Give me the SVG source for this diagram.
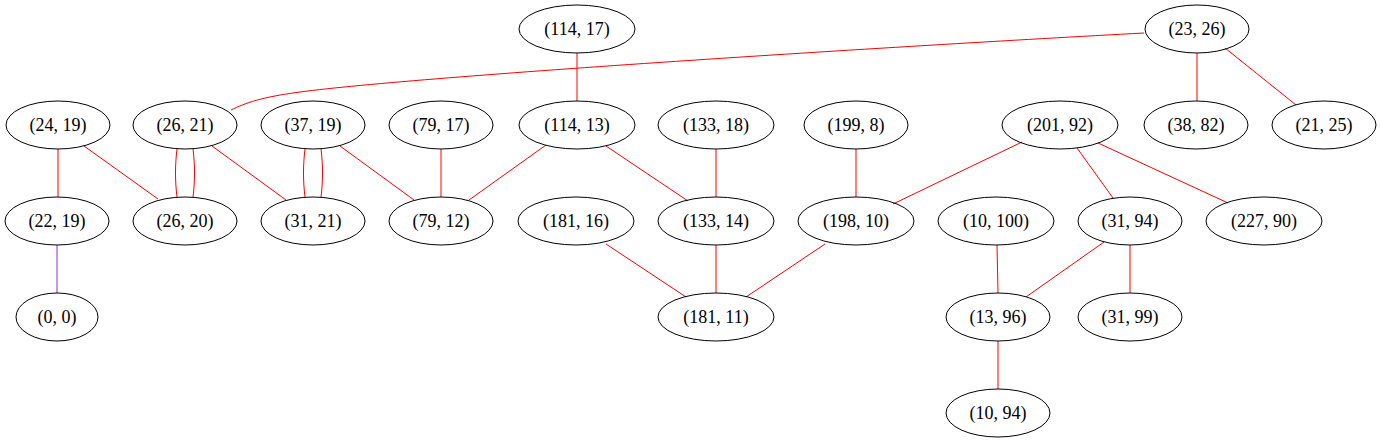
<svg xmlns="http://www.w3.org/2000/svg" width="1380" height="443" viewBox="0 0 1380 443">
<style>
.n ellipse{fill:none;stroke:#000;stroke-width:1}
.n text{font-family:"Liberation Serif","Times New Roman",serif;font-size:18px;text-anchor:middle;fill:#000}
#edges path,#edges line{fill:none;stroke:#ff0000;stroke-width:1}
#edges .p{stroke:#8a2be2}
</style>
<rect width="1380" height="443" fill="#fff"/>
<g id="edges">
<path d="M1144,33 C900,46 420,76 300,92 C262,97 245,103 231,110"/>
<line x1="577" y1="53" x2="577" y2="101"/>
<line x1="1197" y1="53" x2="1197" y2="101"/>
<line x1="1225" y1="48" x2="1296" y2="105"/>
<line x1="58" y1="149" x2="58" y2="197"/>
<line x1="84" y1="146" x2="158" y2="199"/>
<path d="M177,149 C175,165 175,181 177,197"/>
<path d="M193,149 C195,165 195,181 193,197"/>
<line x1="212" y1="146" x2="286" y2="200"/>
<path d="M305,149 C303,165 303,181 305,197"/>
<path d="M321,149 C323,165 323,181 321,197"/>
<line x1="340" y1="146" x2="414" y2="200"/>
<line x1="441" y1="149" x2="441" y2="197"/>
<line x1="546" y1="145" x2="469" y2="200"/>
<line x1="606" y1="146" x2="688" y2="201"/>
<line x1="716" y1="149" x2="716" y2="197"/>
<line x1="856" y1="149" x2="856" y2="197"/>
<line x1="1022" y1="142" x2="893" y2="204"/>
<line x1="1077" y1="148" x2="1113" y2="198"/>
<line x1="1098" y1="143" x2="1228" y2="203"/>
<line class="p" x1="57" y1="245" x2="57" y2="293"/>
<line x1="606" y1="244" x2="686" y2="297"/>
<line x1="716" y1="245" x2="716" y2="293"/>
<line x1="825" y1="244" x2="746" y2="297"/>
<line x1="997" y1="245" x2="998" y2="293"/>
<line x1="1104" y1="242" x2="1026" y2="297"/>
<line x1="1130" y1="245" x2="1130" y2="293"/>
<line x1="998" y1="341" x2="998" y2="389"/>
</g>
<g id="n_114_17" class="n"><ellipse cx="577" cy="29" rx="58" ry="24"/><text x="577" y="35">(114, 17)</text></g>
<g id="n_23_26" class="n"><ellipse cx="1197" cy="29" rx="52" ry="24"/><text x="1197" y="35">(23, 26)</text></g>
<g id="n_24_19" class="n"><ellipse cx="58" cy="125" rx="52" ry="24"/><text x="58" y="131">(24, 19)</text></g>
<g id="n_26_21" class="n"><ellipse cx="185" cy="125" rx="52" ry="24"/><text x="185" y="131">(26, 21)</text></g>
<g id="n_37_19" class="n"><ellipse cx="313" cy="125" rx="52" ry="24"/><text x="313" y="131">(37, 19)</text></g>
<g id="n_79_17" class="n"><ellipse cx="441" cy="125" rx="52" ry="24"/><text x="441" y="131">(79, 17)</text></g>
<g id="n_114_13" class="n"><ellipse cx="577" cy="125" rx="58" ry="24"/><text x="577" y="131">(114, 13)</text></g>
<g id="n_133_18" class="n"><ellipse cx="716" cy="125" rx="58" ry="24"/><text x="716" y="131">(133, 18)</text></g>
<g id="n_199_8" class="n"><ellipse cx="856" cy="125" rx="52" ry="24"/><text x="856" y="131">(199, 8)</text></g>
<g id="n_201_92" class="n"><ellipse cx="1060" cy="125" rx="58" ry="24"/><text x="1060" y="131">(201, 92)</text></g>
<g id="n_38_82" class="n"><ellipse cx="1196" cy="125" rx="52" ry="24"/><text x="1196" y="131">(38, 82)</text></g>
<g id="n_21_25" class="n"><ellipse cx="1324" cy="125" rx="52" ry="24"/><text x="1324" y="131">(21, 25)</text></g>
<g id="n_22_19" class="n"><ellipse cx="57" cy="221" rx="52" ry="24"/><text x="57" y="227">(22, 19)</text></g>
<g id="n_26_20" class="n"><ellipse cx="185" cy="221" rx="52" ry="24"/><text x="185" y="227">(26, 20)</text></g>
<g id="n_31_21" class="n"><ellipse cx="313" cy="221" rx="52" ry="24"/><text x="313" y="227">(31, 21)</text></g>
<g id="n_79_12" class="n"><ellipse cx="441" cy="221" rx="52" ry="24"/><text x="441" y="227">(79, 12)</text></g>
<g id="n_181_16" class="n"><ellipse cx="576" cy="221" rx="58" ry="24"/><text x="576" y="227">(181, 16)</text></g>
<g id="n_133_14" class="n"><ellipse cx="716" cy="221" rx="58" ry="24"/><text x="716" y="227">(133, 14)</text></g>
<g id="n_198_10" class="n"><ellipse cx="856" cy="221" rx="58" ry="24"/><text x="856" y="227">(198, 10)</text></g>
<g id="n_10_100" class="n"><ellipse cx="996" cy="221" rx="58" ry="24"/><text x="996" y="227">(10, 100)</text></g>
<g id="n_31_94" class="n"><ellipse cx="1130" cy="221" rx="52" ry="24"/><text x="1130" y="227">(31, 94)</text></g>
<g id="n_227_90" class="n"><ellipse cx="1264" cy="221" rx="58" ry="24"/><text x="1264" y="227">(227, 90)</text></g>
<g id="n_0_0" class="n"><ellipse cx="57" cy="317" rx="41" ry="24"/><text x="57" y="323">(0, 0)</text></g>
<g id="n_181_11" class="n"><ellipse cx="716" cy="317" rx="58" ry="24"/><text x="716" y="323">(181, 11)</text></g>
<g id="n_13_96" class="n"><ellipse cx="998" cy="317" rx="52" ry="24"/><text x="998" y="323">(13, 96)</text></g>
<g id="n_31_99" class="n"><ellipse cx="1130" cy="317" rx="52" ry="24"/><text x="1130" y="323">(31, 99)</text></g>
<g id="n_10_94" class="n"><ellipse cx="998" cy="413" rx="52" ry="24"/><text x="998" y="419">(10, 94)</text></g>
</svg>
